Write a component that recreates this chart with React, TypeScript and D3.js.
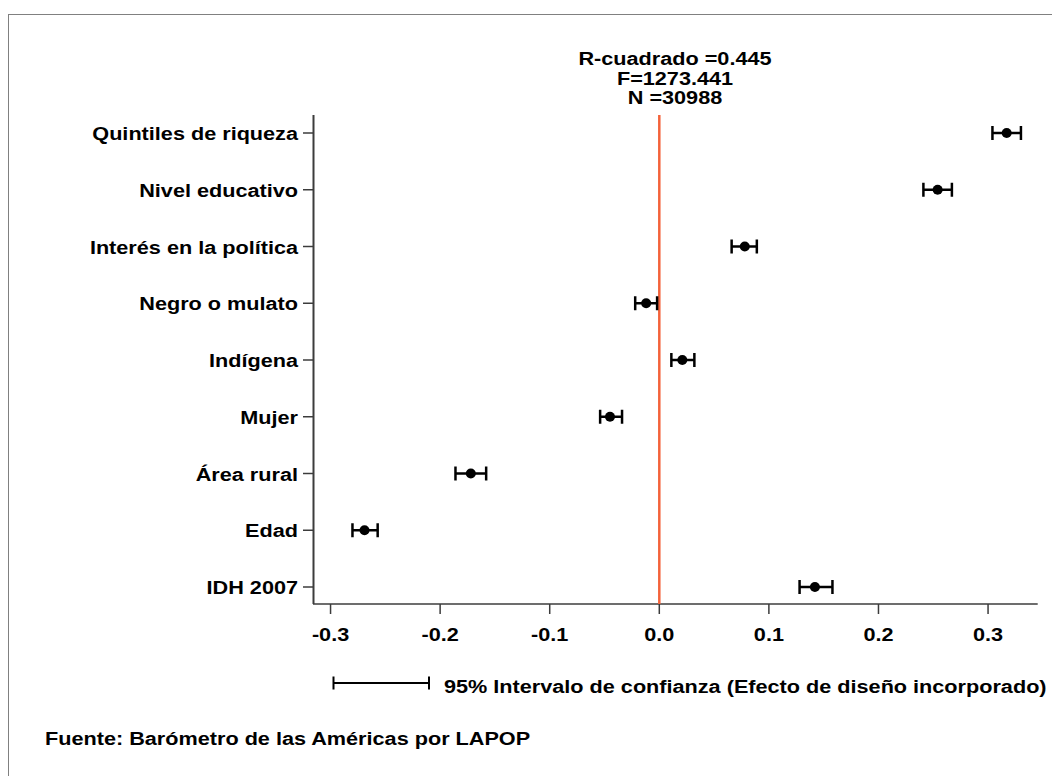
import React from "react";
import * as d3 from "d3";

const categories = [
  "Quintiles de riqueza",
  "Nivel educativo",
  "Interés en la política",
  "Negro o mulato",
  "Indígena",
  "Mujer",
  "Área rural",
  "Edad",
  "IDH 2007",
];
const coef = [0.317, 0.254, 0.078, -0.012, 0.021, -0.045, -0.172, -0.269, 0.142];
const lower = [0.304, 0.241, 0.066, -0.022, 0.011, -0.054, -0.186, -0.28, 0.128];
const upper = [0.33, 0.267, 0.089, -0.002, 0.032, -0.034, -0.158, -0.257, 0.158];
const xTicks = [-0.3, -0.2, -0.1, 0.0, 0.1, 0.2, 0.3];
const statsLines = ["R-cuadrado =0.445", "F=1273.441", "N =30988"];
const legendText = "95% Intervalo de confianza (Efecto de diseño incorporado)";
const sourceText = "Fuente: Barómetro de las Américas por LAPOP";

const FONT = "'Liberation Sans', Arial, sans-serif";
const SX = 1.14;

function T({ x, y, anchor = "start", size = 19, children }: any) {
  return (
    <text
      transform={`translate(${x},${y}) scale(${SX},1)`}
      textAnchor={anchor}
      fontFamily={FONT}
      fontWeight="bold"
      fontSize={size}
      fill="#000"
    >
      {children}
    </text>
  );
}

const fmt = (t: number) => d3.format(".1f")(t).replace("\u2212", "-");

export default function App() {
  const x = d3.scaleLinear().domain([-0.3151, 0.3453]).range([314, 1037.7]);
  const y = d3.scalePoint<string>().domain(categories).range([133, 587]);
  const axisTop = 115;
  const axisBottom = 604;
  const axisColor = "#3c3c3c";

  return (
    <svg
      width={1052}
      height={776}
      style={{ position: "absolute", left: 0, top: 0, background: "#fff" }}
    >
      <rect x={0} y={0} width={1052} height={776} fill="#fff" />
      <rect x={8.5} y={14.5} width={1100} height={800} fill="none" stroke="#808080" strokeWidth={1} />

      {statsLines.map((s, i) => (
        <T key={s} x={675} y={65 + i * 19.7} anchor="middle" size={19}>
          {s}
        </T>
      ))}

      {/* y axis */}
      <line x1={313.5} x2={313.5} y1={axisTop} y2={axisBottom} stroke={axisColor} strokeWidth={2} />
      {categories.map((c) => (
        <g key={c}>
          <line x1={303} x2={313} y1={y(c)!} y2={y(c)!} stroke={axisColor} strokeWidth={1.5} />
          <T x={298} y={y(c)! + 7} anchor="end">
            {c}
          </T>
        </g>
      ))}

      {/* x axis */}
      <line x1={313} x2={x.range()[1]} y1={axisBottom} y2={axisBottom} stroke={axisColor} strokeWidth={1.5} />
      {xTicks.map((t) => (
        <g key={t}>
          <line x1={x(t)} x2={x(t)} y1={axisBottom} y2={axisBottom + 10} stroke={axisColor} strokeWidth={1.5} />
          <T x={x(t)} y={640.5} anchor="middle">
            {fmt(t)}
          </T>
        </g>
      ))}

      {/* zero line */}
      <line x1={x(0)} x2={x(0)} y1={axisTop} y2={axisBottom} stroke="#f4623a" strokeWidth={2.5} />

      {/* error bars */}
      {categories.map((c, i) => {
        const yy = y(c)!;
        return (
          <g key={"e" + c} stroke="#000" strokeWidth={2.5}>
            <line x1={x(lower[i])} x2={x(upper[i])} y1={yy} y2={yy} />
            <line x1={x(lower[i])} x2={x(lower[i])} y1={yy - 7} y2={yy + 7} />
            <line x1={x(upper[i])} x2={x(upper[i])} y1={yy - 7} y2={yy + 7} />
            <circle cx={x(coef[i])} cy={yy} r={5} fill="#000" stroke="none" />
          </g>
        );
      })}

      {/* legend */}
      <g stroke="#000" strokeWidth={2}>
        <line x1={333.5} x2={429} y1={683} y2={683} />
        <line x1={333.5} x2={333.5} y1={676.5} y2={689.5} />
        <line x1={429} x2={429} y1={676.5} y2={689.5} />
      </g>
      <T x={444} y={692.5}>{legendText}</T>

      <T x={45} y={745}>{sourceText}</T>
    </svg>
  );
}
